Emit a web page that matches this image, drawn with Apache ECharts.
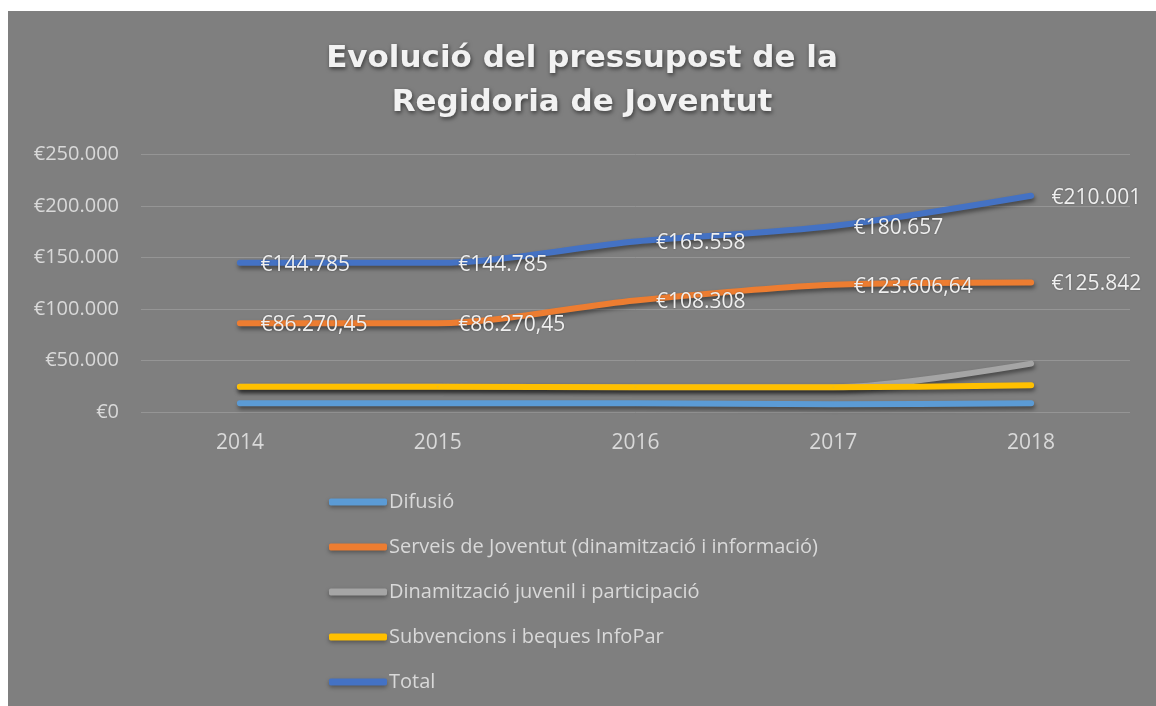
<!DOCTYPE html>
<html>
<head>
<meta charset="utf-8">
<title>Evolució del pressupost de la Regidoria de Joventut</title>
<script src="https://cdn.jsdelivr.net/npm/echarts@6/dist/echarts.min.js"></script>
<style>
  html, body { margin: 0; padding: 0; background: #ffffff; }
  #chart { position: absolute; left: 8px; top: 11px; width: 1148px; height: 695px; background: #7f7f7f; }
</style>
</head>
<body>
<div id="chart"></div>
<script>
// ---------------------------------------------------------------------------
// Data
// ---------------------------------------------------------------------------
const years = ['2014', '2015', '2016', '2017', '2018'];

const difusio = [8500, 8500, 8500, 7500, 8500];
const serveis = [86270.45, 86270.45, 108308, 123606.64, 125842];
const dinamitzacio = [24600, 24600, 24000, 24000, 47000];
const subvencions = [24600, 24600, 24000, 24000, 26000];
const total = [144785, 144785, 165558, 180657, 210001];

const seriesNames = [
  'Difusió',
  'Serveis de Joventut (dinamització i informació)',
  'Dinamització juvenil i participació',
  'Subvencions i beques InfoPar',
  'Total'
];

const yTicks = { min: 0, max: 250000, interval: 50000 };

// ---------------------------------------------------------------------------
// Helpers
// ---------------------------------------------------------------------------
function euro(v) {
  const parts = Math.abs(v).toFixed(2).split('.');
  const intPart = parts[0].replace(/\B(?=(\d{3})+(?!\d))/g, '.');
  return '€' + intPart + (parts[1] === '00' ? '' : ',' + parts[1]);
}

const FONT = 'Open Sans';
const textColor = '#d9d9d9';

function lineSeries(name, data, color, withLabels) {
  return {
    name: name,
    type: 'line',
    data: data,
    smooth: 0.3,
    symbol: 'circle',
    symbolSize: 1,
    showSymbol: true,
    itemStyle: { color: color },
    lineStyle: {
      width: 6,
      color: color,
      cap: 'round',
      join: 'round',
      shadowColor: 'rgba(0, 0, 0, 0.45)',
      shadowBlur: 4,
      shadowOffsetX: 1,
      shadowOffsetY: 3
    },
    label: {
      show: withLabels,
      position: 'right',
      distance: 20,
      offset: [0, 2],
      color: '#efefef',
      fontFamily: FONT,
      fontSize: 21,
      textShadowColor: 'rgba(0, 0, 0, 0.3)',
      textShadowBlur: 2,
      formatter: p => euro(p.value)
    },
    emphasis: { disabled: true }
  };
}

// ---------------------------------------------------------------------------
// Chart
// ---------------------------------------------------------------------------
const chart = echarts.init(document.getElementById('chart'));

chart.setOption({
  animation: false,
  backgroundColor: '#7f7f7f',
  title: {
    text: 'Evolució del pressupost de la\nRegidoria de Joventut',
    left: 'center',
    top: 21,
    textStyle: {
      fontFamily: 'DejaVu Sans',
      fontWeight: 'bold',
      fontSize: 31,
      lineHeight: 44,
      color: '#f2f2f2',
      textShadowColor: 'rgba(0, 0, 0, 0.55)',
      textShadowBlur: 4,
      textShadowOffsetX: 1,
      textShadowOffsetY: 2
    }
  },
  legend: {
    orient: 'vertical',
    left: 316,
    top: 474,
    itemGap: 21,
    itemWidth: 58,
    itemHeight: 7,
    icon: 'roundRect',
    data: seriesNames,
    itemStyle: {
      shadowColor: 'rgba(0, 0, 0, 0.35)',
      shadowBlur: 4,
      shadowOffsetY: 2
    },
    textStyle: { color: textColor, fontFamily: FONT, fontSize: 20, lineHeight: 24, padding: [0, 0, 0, -3] }
  },
  grid: { left: 133, right: 26, top: 143.5, bottom: 294, containLabel: false },
  xAxis: {
    type: 'category',
    data: years,
    boundaryGap: true,
    axisLine: { show: false },
    axisTick: { show: false },
    axisLabel: { color: textColor, fontFamily: FONT, fontSize: 21, margin: 21 }
  },
  yAxis: {
    type: 'value',
    min: yTicks.min,
    max: yTicks.max,
    interval: yTicks.interval,
    axisLine: { show: false },
    axisTick: { show: false },
    splitLine: { lineStyle: { color: '#959595', width: 1 } },
    axisLabel: { color: textColor, fontFamily: FONT, fontSize: 20, margin: 22, formatter: v => euro(v) }
  },
  series: [
    lineSeries(seriesNames[0], difusio, '#5b9bd5', false),
    lineSeries(seriesNames[1], serveis, '#ed7d31', true),
    lineSeries(seriesNames[2], dinamitzacio, '#a5a5a5', false),
    lineSeries(seriesNames[3], subvencions, '#ffc000', false),
    lineSeries(seriesNames[4], total, '#4472c4', true)
  ]
});
</script>
</body>
</html>
